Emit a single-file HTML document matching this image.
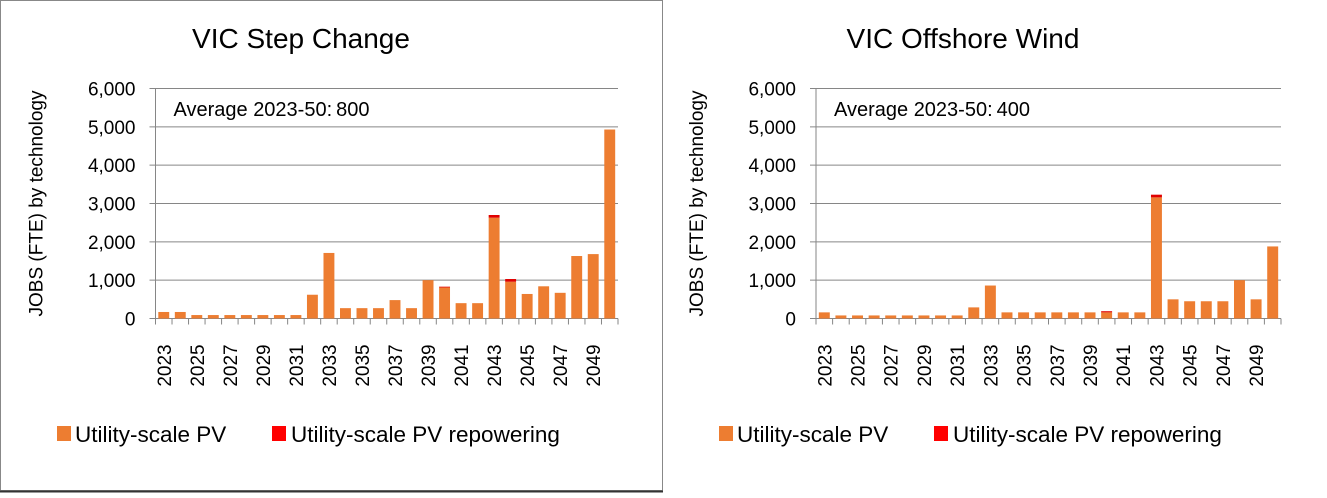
<!DOCTYPE html>
<html><head><meta charset="utf-8"><style>
body{margin:0;background:#fff;font-family:"Liberation Sans",Arial,sans-serif;}
svg text{font-family:"Liberation Sans",Arial,sans-serif;fill:#000;}
</style></head><body>
<svg id="c" width="1327" height="493" xmlns="http://www.w3.org/2000/svg">
<rect x="0.5" y="0.5" width="662" height="490" fill="#fff" stroke="#888"/>
<line x1="0" y1="491.5" x2="663" y2="491.5" stroke="#333" stroke-width="2"/>
</svg>
<script>
const years=[];for(let y=2023;y<=2050;y++)years.push(y);
const yTicks=[0,1000,2000,3000,4000,5000,6000];
const stepPV=[170,170,90,90,90,90,90,90,90,620,1710,270,270,270,480,270,1000,810,400,400,2630,960,640,840,670,1630,1680,4930];
const stepRep=[0,0,0,0,0,0,0,0,0,0,0,0,0,0,0,0,0,20,0,0,70,70,0,0,0,0,0,0];
const offPV=[160,80,80,80,80,80,80,80,80,290,860,160,160,160,160,160,160,160,160,160,3160,500,450,450,450,1000,500,1880];
const offRep=[0,0,0,0,0,0,0,0,0,0,0,0,0,0,0,0,0,30,0,0,70,0,0,0,0,0,0,0];
const svg=document.getElementById('c');const NS='http://www.w3.org/2000/svg';
function mk(t,a,txt){const e=document.createElementNS(NS,t);for(const k in a)e.setAttribute(k,a[k]);if(txt!=null)e.textContent=txt;svg.appendChild(e);return e;}
function chart(ox,x0,x1,title,avg,pv,rep,key){
  const y0=318.5,yT=88.5;const ys=v=>y0-(v/6000)*(y0-yT);
  const n=years.length,bw=(x1-x0)/n;const xs=i=>x0+i*bw;
  let e=mk('text',{x:ox+301,y:48,'font-size':28,'text-anchor':'middle'},title);
  
  
  yTicks.forEach(t=>{
    e=mk('line',{x1:x0-6,x2:x1,y1:ys(t),y2:ys(t),stroke:'#868686','stroke-width':1});
    
    
    e=mk('text',{x:x0-20,y:ys(t)+7,'font-size':19,'text-anchor':'end'},t.toLocaleString('en-US'));
    
    
  });
  e=mk('line',{x1:x0,x2:x0,y1:yT,y2:y0,stroke:'#868686'});
  
  
  e=mk('text',{transform:`translate(${x0-113},${(yT+y0)/2}) rotate(-90)`,'font-size':19,'text-anchor':'middle'},'JOBS (FTE) by technology');
  
  
  e=mk('text',{x:x0+18,y:116,'font-size':20},'Average 2023-50:\u2009'+avg);
  
  
  years.forEach((yr,i)=>{
    const bx=xs(i)+bw*0.17,w=bw*0.66;
    e=mk('rect',{x:bx,y:ys(pv[i]),width:w,height:y0-ys(pv[i]),fill:'#ed7d31'});
    
    
    if(rep[i]>0){
      e=mk('rect',{x:bx,y:ys(pv[i]+rep[i]),width:w,height:ys(pv[i])-ys(pv[i]+rep[i]),fill:'#e00000'});
      
      
    }
    e=mk('line',{x1:xs(i),x2:xs(i),y1:y0,y2:y0+6,stroke:'#868686'});
    
    
    if(i%2===0){
      const cx=xs(i)+bw/2+7;
      e=mk('text',{transform:`translate(${cx},${y0+47}) rotate(-90)`,'font-size':19,'text-anchor':'middle'},String(yr));
      
      
    }
  });
  e=mk('line',{x1:x1,x2:x1,y1:y0,y2:y0+6,stroke:'#868686'});
  
  
  e=mk('line',{x1:x0,x2:x0,y1:y0,y2:y0+6,stroke:'#868686'});
  
  
  const ly=434;
  e=mk('rect',{x:ox+57,y:ly-8,width:14,height:15,fill:'#ed7d31'});
  
  
  e=mk('text',{x:ox+75,y:ly+8,'font-size':22.5},'Utility-scale PV');
  
  
  e=mk('rect',{x:ox+272,y:ly-8,width:14,height:15,fill:'#ff0000'});
  
  
  e=mk('text',{x:ox+291,y:ly+8,'font-size':22.5},'Utility-scale PV repowering');
  
  
}
chart(0,155.5,618,'VIC Step Change','800',stepPV,stepRep,'step-change');
chart(662,816,1281,'VIC Offshore Wind','400',offPV,offRep,'offshore-wind');
</script>
</body></html>
